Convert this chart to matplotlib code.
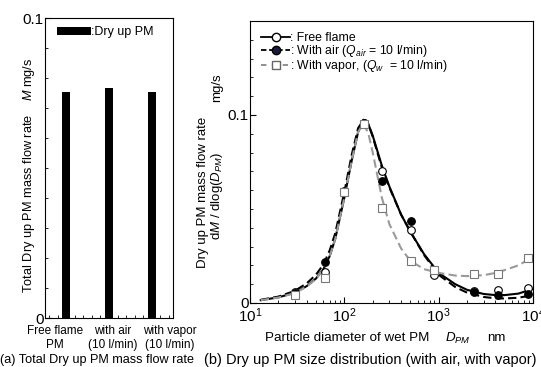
import matplotlib
matplotlib.use("Agg")
from matplotlib import pyplot as plt
from matplotlib.ticker import MultipleLocator, LogLocator, NullFormatter, FixedLocator
import numpy as np

plt.rcParams['font.family'] = ['Liberation Sans', 'DejaVu Sans']
plt.rcParams['mathtext.fontset'] = 'custom'
plt.rcParams['mathtext.it'] = 'Liberation Sans:italic'
plt.rcParams['mathtext.rm'] = 'Liberation Sans'

# (a) total dry up PM mass flow rate
cases = ["Free flame\nPM", "with air\n(10 l/min)", "with vapor\n(10 l/min)"]
total_M = [0.0753, 0.0766, 0.0752]

# (b) measured points
d_pts = [30, 62, 100, 162, 251, 509, 890, 2350, 4270, 8900]
free_pts = [0.0057, 0.0165, 0.0594, 0.0957, 0.0700, 0.0390, 0.0147, 0.0064, 0.0071, 0.0080]
air_pts = [0.0055, 0.0218, 0.0590, 0.0960, 0.0647, 0.0436, 0.0174, 0.0058, 0.0041, 0.0050]
vap_pts = [0.0045, 0.0135, 0.0590, 0.0950, 0.0507, 0.0223, 0.0174, 0.0156, 0.0156, 0.0241]

# (b) fitted curves
d_fit = [13, 20, 30, 40, 50, 60, 70, 80, 100, 120, 140, 160, 180, 200, 250, 300,
         400, 500, 700, 1000, 1500, 2000, 3000, 4000, 5000, 7000, 10000]
free_fit = [0.0015, 0.0030, 0.0055, 0.0090, 0.0130, 0.0180, 0.0250, 0.0340, 0.0560,
            0.0760, 0.0910, 0.0970, 0.0950, 0.0890, 0.0730, 0.0620, 0.0470, 0.0380,
            0.0260, 0.0160, 0.0100, 0.0070, 0.0048, 0.0042, 0.0042, 0.0050, 0.0075]
air_fit = [0.0017, 0.0034, 0.0065, 0.0105, 0.0150, 0.0205, 0.0280, 0.0370, 0.0590,
           0.0790, 0.0930, 0.0975, 0.0950, 0.0885, 0.0720, 0.0615, 0.0470, 0.0380,
           0.0255, 0.0150, 0.0085, 0.0055, 0.0032, 0.0025, 0.0024, 0.0028, 0.0042]
vap_fit = [0.0015, 0.0029, 0.0053, 0.0088, 0.0128, 0.0178, 0.0250, 0.0340, 0.0560,
           0.0760, 0.0910, 0.0955, 0.0900, 0.0800, 0.0560, 0.0420, 0.0290, 0.0225,
           0.0180, 0.0160, 0.0146, 0.0143, 0.0148, 0.0160, 0.0175, 0.0200, 0.0245]

W, H = 541, 367
fig = plt.figure(figsize=(W / 100, H / 100), dpi=100)

def fx(px):
    return px / W

def fy(py):
    return 1 - py / H

# ---------- (a) ----------
ax1 = fig.add_axes([fx(45), fy(318), fx(128), 300 / H])
x = np.arange(len(cases))
ax1.bar(x, total_M, width=0.19, color='black', label=':Dry up PM')
ax1.set_xlim(-0.5, 2.5)
ax1.set_ylim(0, 0.1)
ax1.set_yticks([0, 0.1])
ax1.set_yticklabels(['0', '0.1'], fontsize=11)
ax1.yaxis.set_minor_locator(MultipleLocator(0.01))
ax1.set_xticks(x)
ax1.set_xticklabels([])
ax1.xaxis.set_minor_locator(FixedLocator(np.arange(-0.4, 2.5, 0.2)))
ax1.tick_params(axis='both', which='both', direction='in', top=False, right=False)
ax1.tick_params(axis='y', which='major', length=4, pad=1)
ax1.tick_params(axis='y', which='minor', length=2)
ax1.tick_params(axis='x', which='major', length=0)
ax1.tick_params(axis='x', which='minor', length=2)
ax1.legend(loc='upper left', fontsize=9, frameon=False, handlelength=2.7,
           handleheight=0.6, handletextpad=0.0, borderaxespad=0.0, borderpad=0.0,
           bbox_to_anchor=(12 / 128, 1 - 8 / 300))
for s in ax1.spines.values():
    s.set_linewidth(0.8)
# category labels sit slightly off the bars, as in the original figure
for cx, lab in zip([55, 113, 170], cases):
    fig.text(fx(cx), fy(325), lab, fontsize=8.5, ha='center', va='top', linespacing=1.2)
fig.text(fx(29), fy(175), 'Total Dry up PM mass flow rate    $M$ mg/s', fontsize=9.2,
         rotation=90, ha='center', va='center')
fig.text(fx(0), fy(360), '(a) Total Dry up PM mass flow rate', fontsize=9.1,
         ha='left', va='center')

# ---------- (b) ----------
ax2 = fig.add_axes([fx(250), fy(303), fx(283), 282 / H])
ax2.plot(d_fit, free_fit, '-', color='black', lw=1.5)
ax2.plot(d_fit, air_fit, '--', color='black', lw=1.5, dashes=(4, 2))
ax2.plot(d_fit, vap_fit, '--', color='#9a9a9a', lw=1.5, dashes=(4, 2))
ax2.plot(d_pts, free_pts, 'o', mfc='white', mec='black', ms=5.5, mew=0.8)
ax2.plot(d_pts, air_pts, 'o', mfc='black', mec='black', ms=5.5, mew=0.8)
ax2.plot(d_pts, vap_pts, 's', mfc='white', mec='#777777', ms=5.5, mew=0.8)

# legend handles
h1, = ax2.plot([], [], '-', color='black', marker='o', mfc='white', mec='black', ms=6, lw=1.3)
h2, = ax2.plot([], [], '--', color='black', marker='o', mfc='#1a1a40', mec='black', ms=6, lw=1.3, dashes=(3, 1.5))
h3, = ax2.plot([], [], '--', color='#888888', marker='s', mfc='white', mec='#666666', ms=6, lw=1.3, dashes=(3, 3))
ax2.legend([h1, h2, h3],
           [': Free flame', ': With air ($Q_{air}$ = 10 l/min)', ': With vapor, ($Q_w$  = 10 l/min)'],
           loc='upper left', fontsize=8.8, frameon=False, handlelength=2.4,
           handletextpad=0.0, labelspacing=-0.08, borderaxespad=0.0, borderpad=0.0,
           bbox_to_anchor=(11 / 283, 1 - 11 / 282))

ax2.set_xscale('log')
ax2.set_xlim(10, 10000)
ax2.set_ylim(0, 0.15)
ax2.set_yticks([0, 0.1])
ax2.set_yticklabels(['0', '0.1'], fontsize=11)
ax2.yaxis.set_minor_locator(MultipleLocator(0.01))
ax2.xaxis.set_major_locator(LogLocator(base=10, numticks=10))
ax2.xaxis.set_minor_locator(LogLocator(base=10, subs=np.arange(2, 10), numticks=10))
ax2.xaxis.set_minor_formatter(NullFormatter())
ax2.tick_params(axis='x', which='major', labelsize=11, pad=2.5)
ax2.tick_params(axis='both', which='both', direction='in', top=False, right=False)
ax2.tick_params(axis='both', which='major', length=4)
ax2.tick_params(axis='both', which='minor', length=2)
ax2.tick_params(axis='y', which='major', pad=1)
for s in ax2.spines.values():
    s.set_linewidth(0.8)

fig.text(fx(265), fy(338), 'Particle diameter of wet PM', fontsize=9.6, ha='left', va='center')
fig.text(fx(445), fy(338), '$D_{PM}$', fontsize=9.6, ha='left', va='center')
fig.text(fx(487), fy(338), 'nm', fontsize=9.6, ha='left', va='center')
fig.text(fx(203), fy(192), 'Dry up PM mass flow rate', fontsize=9.5, rotation=90,
         ha='center', va='center')
fig.text(fx(217), fy(196), '$\\mathrm{d}M$ / dlog($D_{PM}$)', fontsize=9.5, rotation=90,
         ha='center', va='center')
fig.text(fx(217), fy(88), 'mg/s', fontsize=9.5, rotation=90, ha='center', va='center')
fig.text(fx(204), fy(360), '(b) Dry up PM size distribution (with air, with vapor)',
         fontsize=10.5, ha='left', va='center')

fig.savefig('out.png', dpi=100)
